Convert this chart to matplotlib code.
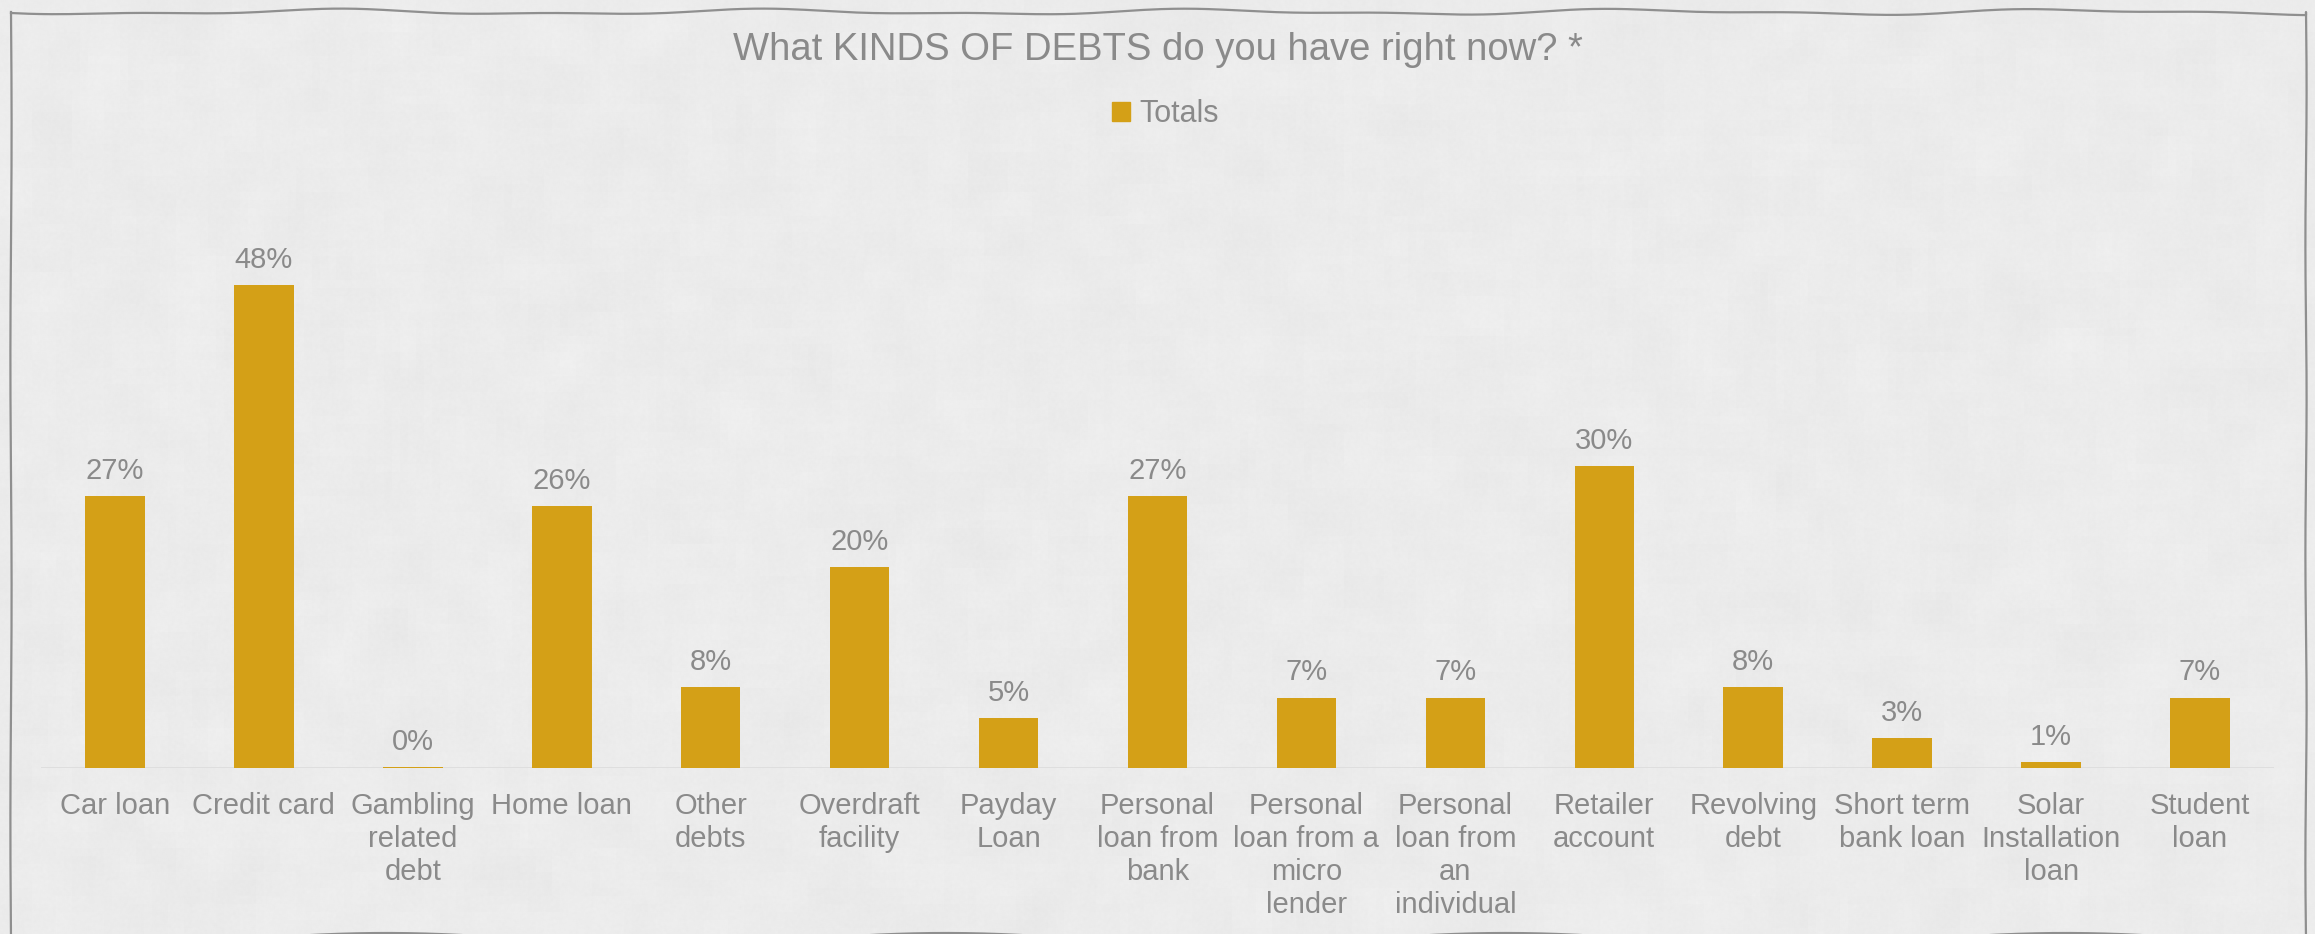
import numpy as np
import matplotlib
matplotlib.use("Agg")
import matplotlib.pyplot as plt
from matplotlib.lines import Line2D
from matplotlib.patches import Patch

categories = [
    "Car loan", "Credit card", "Gambling\nrelated\ndebt", "Home loan",
    "Other\ndebts", "Overdraft\nfacility", "Payday\nLoan",
    "Personal\nloan from\nbank", "Personal\nloan from a\nmicro\nlender",
    "Personal\nloan from\nan\nindividual", "Retailer\naccount",
    "Revolving\ndebt", "Short term\nbank loan", "Solar\nInstallation\nloan",
    "Student\nloan",
]
totals = [0.27, 0.48, 0.001, 0.26, 0.08, 0.20, 0.05, 0.27, 0.07, 0.07,
          0.30, 0.08, 0.03, 0.006, 0.07]

title = "What KINDS OF DEBTS do you have right now? *"
series_name = "Totals"

BAR = "#D4A017"
TEXT = "#8a8a8a"
BG = "#ebebeb"

plt.rcParams["font.family"] = ["Liberation Sans", "DejaVu Sans"]

W, H = 2315, 934
fig = plt.figure(figsize=(W / 100, H / 100), dpi=100)
fig.patch.set_facecolor(BG)


def smooth(a, k):
    # box blur along both axes
    ker = np.ones(k) / k
    a = np.apply_along_axis(lambda r: np.convolve(r, ker, mode="same"), 1, a)
    return np.apply_along_axis(lambda c: np.convolve(c, ker, mode="same"), 0, a)


# soft paper texture behind the chart
rng = np.random.default_rng(7)
blotch = smooth(rng.normal(0, 1, (H // 8 + 2, W // 8 + 2)), 5)
blotch = np.kron(blotch, np.ones((8, 8)))[:H, :W]
grain = smooth(rng.normal(0, 1, (H, W)), 3)
tex = 0.925 + 0.02 * blotch + 0.006 * grain
tex = np.clip(tex, 0, 1)
fig.figimage(np.dstack([tex, tex, tex]), xo=0, yo=0, zorder=0)

ax = fig.add_axes([0.0175, 0.1777, 0.965, 0.6467])
ax.set_facecolor("none")
ax.set_zorder(2)

x = np.arange(len(categories))
ax.bar(x, totals, width=0.4, color=BAR, zorder=3)
ax.axhline(0, color="#dcdcdc", linewidth=1.2, zorder=2)

for xi, v in zip(x, totals):
    ax.annotate(f"{v:.0%}", (xi, v), xytext=(0, 8), textcoords="offset points",
                ha="center", va="bottom", fontsize=21, color=TEXT)

ax.set_xlim(-0.5, len(categories) - 0.5)
ax.set_ylim(0, 0.6)
ax.set_xticks(x)
ax.set_xticklabels(categories, fontsize=21, color=TEXT, linespacing=1.23)
ax.tick_params(axis="x", length=0, pad=17)
ax.set_yticks([])
for s in ax.spines.values():
    s.set_visible(False)

fig.text(0.5, 1 - 50 / H, title, ha="center", va="center",
         fontsize=27.5, color=TEXT, zorder=3)

fig.legend(handles=[Patch(color=BAR, label=series_name)],
           loc="center", bbox_to_anchor=(0.5035, 1 - 114 / H), frameon=False,
           fontsize=22, labelcolor=TEXT, handlelength=0.6, handleheight=0.6,
           handletextpad=0.3)

# hand-drawn wavy frame
t = np.linspace(0, 1, 400)
top_y = 12 + 2.2 * np.sin(2 * np.pi * 5.3 * t) + 1.2 * np.sin(2 * np.pi * 11 * t + 1)
bot_y = 939 + 6 * np.sin(2 * np.pi * 4.1 * t + 0.5)
left_x = 11 + 0.6 * np.sin(2 * np.pi * 2 * t)
right_x = 2306 + 0.6 * np.sin(2 * np.pi * 3 * t)
xs = np.concatenate([11 + t * 2295, right_x, 2306 - t * 2295, left_x[::-1]])
ys = np.concatenate([top_y, 12 + t * 927, bot_y[::-1], 939 - t * 927])
fig.add_artist(Line2D(xs / W, 1 - ys / H, color="#8f8f8f", linewidth=1.6,
                      transform=fig.transFigure, zorder=4))

fig.savefig("out.png", dpi=100, facecolor=fig.get_facecolor())
